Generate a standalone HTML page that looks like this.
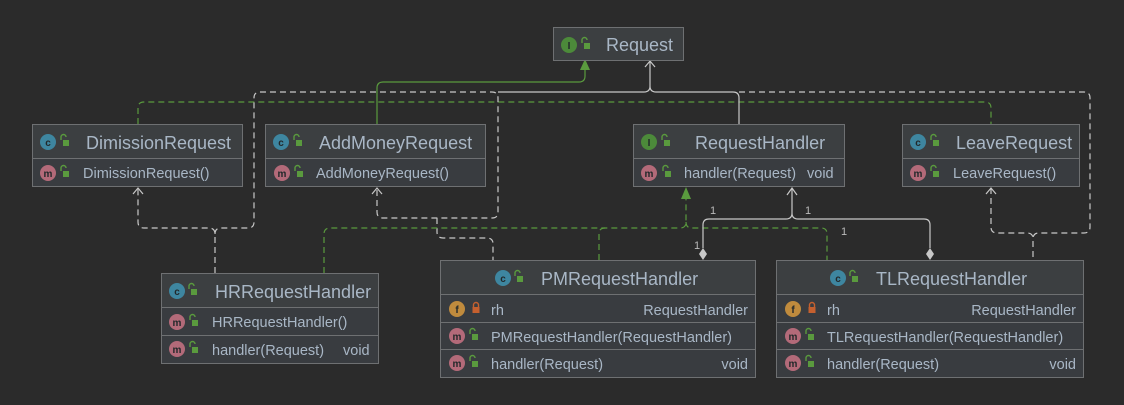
<!DOCTYPE html>
<html><head><meta charset="utf-8"><style>
html,body{margin:0;padding:0;background:#2b2b2b;}
svg{display:block;}
text{font-family:"Liberation Sans","DejaVu Sans",sans-serif;}
.t{fill:#a9b7c6;font-size:18px;}
.r{fill:#a9b7c6;font-size:14.5px;}
.n{fill:#bbbbbb;font-size:11px;}
.hd{fill:#3c3f41;stroke:#6e7072;stroke-width:1;}
.rw{fill:#393c40;stroke:#6e7072;stroke-width:1;}
.wd{fill:none;stroke:#c8c8c8;stroke-width:1.2;stroke-dasharray:6,4;}
.ws{fill:none;stroke:#c8c8c8;stroke-width:1.2;}
.gd{fill:none;stroke:#5a9a3e;stroke-width:1.2;stroke-dasharray:6,4;}
.gs{fill:none;stroke:#5a9a3e;stroke-width:1.2;}
.ic{font-size:10px;font-weight:bold;fill:#22282a;text-anchor:middle;}
</style></head><body>
<svg width="1124" height="405" viewBox="0 0 1124 405" xmlns="http://www.w3.org/2000/svg">
<defs>
<g id="lk"><path d="M1,-3 v-3 a2.5,2.5 0 0 1 5,0" fill="none" stroke="#5a9a3e" stroke-width="1.4"/><rect x="3" y="-3" width="6" height="6" fill="#5a9a3e"/></g>
<g id="pl"><path d="M1.5,-3 v-2 a2.5,2.5 0 0 1 5,0 v2" fill="none" stroke="#c5602f" stroke-width="1.4"/><rect x="0.5" y="-3" width="7" height="6" fill="#c5602f"/></g>
</defs>

<path class="gs" d="M377,124 V88 Q377,82 383,82 H579 Q585,82 585,76 V64"/>
<path class="gd" d="M138,124 V108 Q138,102 144,102 H985 Q991,102 991,108 V124"/>
<polygon points="585,59 580,70 590,70" fill="#5a9a3e"/>
<path class="wd" d="M215,273 V234 Q215,228 209,228 H144 Q138,228 138,222 V188"/>
<path class="wd" d="M215,234 Q215,228 221,228 H248 Q254,228 254,222 V98 Q254,92 260,92 H492 Q498,92 498,98 V212 Q498,218 492,218 H383 Q377,218 377,212 V188"/>
<path class="wd" d="M437,218 V232 Q437,238 443,238 H487 Q493,238 493,244 V260"/>
<path class="ws" d="M498,92 H644 Q650,92 650,86 V61 M650,86 Q650,92 656,92 H733 Q739,92 739,98 V124"/>
<path class="wd" d="M739,92 H1084 Q1090,92 1090,98 V227 Q1090,233 1084,233 H1039 Q1033,233 1033,239 V260"/>
<path class="wd" d="M991,188 V227 Q991,233 997,233 H1027 Q1033,233 1033,239"/>
<polyline class="ws" points="645,67 650,61 655,67"/>
<polyline class="ws" points="372,194 377,188 382,194"/>
<polyline class="ws" points="133,194 138,188 143,194"/>
<polyline class="ws" points="986,194 991,188 996,194"/>
<path class="gd" d="M324,273 V234 Q324,228 330,228 H680 Q686,228 686,222 V199 M686,222 Q686,228 692,228 H821 Q827,228 827,234 V260"/>
<path class="gd" d="M599,260 V234 Q599,228 605,228"/>
<polygon points="686,187 681,199 691,199" fill="#5a9a3e"/>
<path class="ws" d="M703,248 V225 Q703,219 709,219 H786 Q792,219 792,213 V188 M792,213 Q792,219 798,219 H924 Q930,219 930,225 V248"/>
<polyline class="ws" points="787,195 792,188 797,195"/>
<polygon points="703,248 707,254 703,260 699,254" fill="#c8c8c8"/>
<polygon points="930,248 934,254 930,260 926,254" fill="#c8c8c8"/>
<text class="n" x="710" y="214">1</text>
<text class="n" x="805" y="214">1</text>
<text class="n" x="841" y="235">1</text>
<text class="n" x="694" y="249">1</text>

<rect class="hd" x="553.5" y="27.5" width="130" height="33"/>
<circle cx="569" cy="45" r="8" fill="#4c8a3a"/><text class="ic" x="569" y="49">I</text>
<use href="#lk" x="581" y="46"/>
<text class="t" x="606" y="51">Request</text>

<rect class="hd" x="32.5" y="124.5" width="210" height="34"/>
<rect class="rw" x="32.5" y="158.5" width="210" height="28"/>
<circle cx="48" cy="142" r="8" fill="#3e86a0"/><text class="ic" x="48" y="146">c</text>
<use href="#lk" x="60" y="143"/>
<text class="t" x="86" y="149">DimissionRequest</text>
<circle cx="48" cy="173" r="8" fill="#b36a79"/><text class="ic" x="48" y="177">m</text>
<use href="#lk" x="60" y="174"/>
<text class="r" x="83" y="178">DimissionRequest()</text>

<rect class="hd" x="265.5" y="124.5" width="220" height="34"/>
<rect class="rw" x="265.5" y="158.5" width="220" height="28"/>
<circle cx="281" cy="142" r="8" fill="#3e86a0"/><text class="ic" x="281" y="146">c</text>
<use href="#lk" x="293" y="143"/>
<text class="t" x="319" y="149">AddMoneyRequest</text>
<circle cx="282" cy="173" r="8" fill="#b36a79"/><text class="ic" x="282" y="177">m</text>
<use href="#lk" x="294" y="174"/>
<text class="r" x="316" y="178">AddMoneyRequest()</text>

<rect class="hd" x="633.5" y="124.5" width="211" height="34"/>
<rect class="rw" x="633.5" y="158.5" width="211" height="28"/>
<circle cx="649" cy="142" r="8" fill="#4c8a3a"/><text class="ic" x="649" y="146">I</text>
<use href="#lk" x="661" y="143"/>
<text class="t" x="695" y="149">RequestHandler</text>
<circle cx="649" cy="173" r="8" fill="#b36a79"/><text class="ic" x="649" y="177">m</text>
<use href="#lk" x="662" y="174"/>
<text class="r" x="684" y="178">handler(Request)</text>
<text class="r" x="807" y="178">void</text>

<rect class="hd" x="902.5" y="124.5" width="177" height="34"/>
<rect class="rw" x="902.5" y="158.5" width="177" height="28"/>
<circle cx="918" cy="142" r="8" fill="#3e86a0"/><text class="ic" x="918" y="146">c</text>
<use href="#lk" x="930" y="143"/>
<text class="t" x="956" y="149">LeaveRequest</text>
<circle cx="918" cy="173" r="8" fill="#b36a79"/><text class="ic" x="918" y="177">m</text>
<use href="#lk" x="930" y="174"/>
<text class="r" x="953" y="178">LeaveRequest()</text>

<rect class="hd" x="161.5" y="273.5" width="217" height="34"/>
<rect class="rw" x="161.5" y="307.5" width="217" height="28"/>
<rect class="rw" x="161.5" y="335.5" width="217" height="28"/>
<circle cx="177" cy="291" r="8" fill="#3e86a0"/><text class="ic" x="177" y="295">c</text>
<use href="#lk" x="188" y="292"/>
<text class="t" x="215" y="298">HRRequestHandler</text>
<circle cx="177" cy="322" r="8" fill="#b36a79"/><text class="ic" x="177" y="326">m</text>
<use href="#lk" x="189" y="323"/>
<text class="r" x="212" y="327">HRRequestHandler()</text>
<circle cx="177" cy="349" r="8" fill="#b36a79"/><text class="ic" x="177" y="353">m</text>
<use href="#lk" x="189" y="350"/>
<text class="r" x="212" y="355">handler(Request)</text>
<text class="r" x="343" y="355">void</text>

<rect class="hd" x="440.5" y="260.5" width="315" height="34"/>
<rect class="rw" x="440.5" y="294.5" width="315" height="28"/>
<rect class="rw" x="440.5" y="322.5" width="315" height="27"/>
<rect class="rw" x="440.5" y="349.5" width="315" height="28"/>
<circle cx="503" cy="278" r="8" fill="#3e86a0"/><text class="ic" x="503" y="282">c</text>
<use href="#lk" x="514" y="279"/>
<text class="t" x="541" y="285">PMRequestHandler</text>
<circle cx="457" cy="309" r="8" fill="#c08b3d"/><text class="ic" x="457" y="313">f</text>
<use href="#pl" x="472" y="310"/>
<text class="r" x="491" y="315">rh</text>
<text class="r" x="748" y="315" text-anchor="end">RequestHandler</text>
<circle cx="457" cy="336" r="8" fill="#b36a79"/><text class="ic" x="457" y="340">m</text>
<use href="#lk" x="469" y="337"/>
<text class="r" x="491" y="342">PMRequestHandler(RequestHandler)</text>
<circle cx="457" cy="363" r="8" fill="#b36a79"/><text class="ic" x="457" y="367">m</text>
<use href="#lk" x="469" y="364"/>
<text class="r" x="491" y="369">handler(Request)</text>
<text class="r" x="748" y="369" text-anchor="end">void</text>

<rect class="hd" x="776.5" y="260.5" width="307" height="34"/>
<rect class="rw" x="776.5" y="294.5" width="307" height="28"/>
<rect class="rw" x="776.5" y="322.5" width="307" height="27"/>
<rect class="rw" x="776.5" y="349.5" width="307" height="28"/>
<circle cx="838" cy="278" r="8" fill="#3e86a0"/><text class="ic" x="838" y="282">c</text>
<use href="#lk" x="849" y="279"/>
<text class="t" x="876" y="285">TLRequestHandler</text>
<circle cx="793" cy="309" r="8" fill="#c08b3d"/><text class="ic" x="793" y="313">f</text>
<use href="#pl" x="808" y="310"/>
<text class="r" x="827" y="315">rh</text>
<text class="r" x="1076" y="315" text-anchor="end">RequestHandler</text>
<circle cx="793" cy="336" r="8" fill="#b36a79"/><text class="ic" x="793" y="340">m</text>
<use href="#lk" x="805" y="337"/>
<text class="r" x="827" y="342">TLRequestHandler(RequestHandler)</text>
<circle cx="793" cy="363" r="8" fill="#b36a79"/><text class="ic" x="793" y="367">m</text>
<use href="#lk" x="805" y="364"/>
<text class="r" x="827" y="369">handler(Request)</text>
<text class="r" x="1076" y="369" text-anchor="end">void</text>
</svg>
</body></html>
